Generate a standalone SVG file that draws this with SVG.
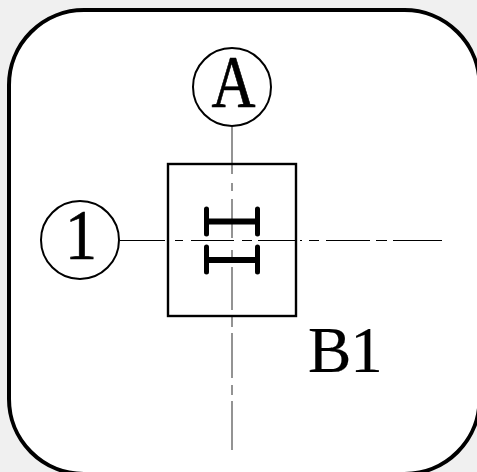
<svg xmlns="http://www.w3.org/2000/svg" width="477" height="472" viewBox="0 0 477 472">
<style>
.t{font-family:"Liberation Serif","Times New Roman",serif;fill:#000;stroke:#000}
.m{text-anchor:middle;stroke-width:.7}
.c{fill:#fff;stroke:#000;stroke-width:2}
.h{fill:none;stroke:#000;stroke-width:1.2}
.v{fill:none;stroke:#666;stroke-width:1.4}
.b{fill:none;stroke:#000;stroke-linecap:round}
</style>
<rect width="477" height="472" fill="#f0f0f0"/>
<g id="frame"><rect x="9" y="10" width="470.5" height="464" rx="75" ry="75" fill="#fff" stroke="#000" stroke-width="4"/></g>
<g id="connectors">
<path class="v" d="M232 127V174M232 183V191M232 199V238M232 250V257M232 267V310M232 317V327M232 333V378M232 385V395M232 401V450"/>
<path class="h" d="M120 240.500H165M175 240.500H183M191 240.500H234M242 240.500H252M258 240.500H297M300 240.500H302M309 240.500H319M326 240.500H370M376 240.500H387M393 240.500H442"/>
</g>
<g id="column-B1">
<rect x="168" y="164" width="128" height="152" fill="none" stroke="#000" stroke-width="2.4"/>
<path class="b" stroke-width="5" d="M206.500 209V234M257.500 209V234M206.500 247V272M257.500 247V272"/>
<path class="b" stroke-width="6" d="M207 221.500H257M207 260H257" style="stroke-linecap:butt"/>
<text class="t" x="308" y="372" font-size="65" letter-spacing="-1" stroke-width=".2">B1</text>
</g>
<g id="axis-A"><circle class="c" cx="232" cy="87" r="39"/><text class="t m" x="233.500" y="107" font-size="74" textLength="44" lengthAdjust="spacingAndGlyphs">A</text></g>
<g id="axis-1"><circle class="c" cx="80" cy="240" r="39"/><text class="t m" x="81" y="259" font-size="72" textLength="32" lengthAdjust="spacingAndGlyphs">1</text></g>
</svg>
